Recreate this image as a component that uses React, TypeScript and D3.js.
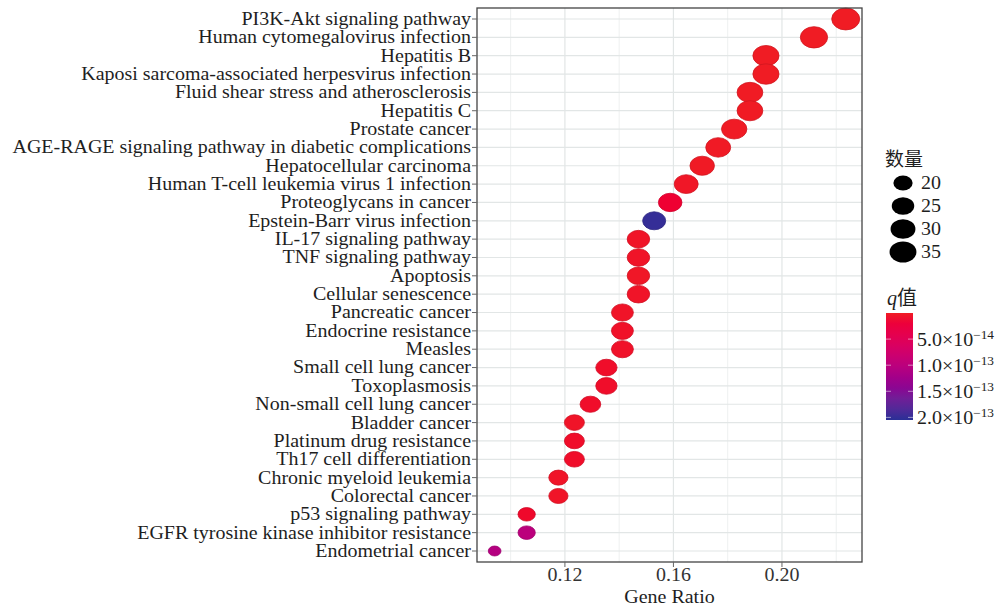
import React from "react";
import * as d3 from "d3";

// pathways, top to bottom
const pathways = [
  "PI3K-Akt signaling pathway",
  "Human cytomegalovirus infection",
  "Hepatitis B",
  "Kaposi sarcoma-associated herpesvirus infection",
  "Fluid shear stress and atherosclerosis",
  "Hepatitis C",
  "Prostate cancer",
  "AGE-RAGE signaling pathway in diabetic complications",
  "Hepatocellular carcinoma",
  "Human T-cell leukemia virus 1 infection",
  "Proteoglycans in cancer",
  "Epstein-Barr virus infection",
  "IL-17 signaling pathway",
  "TNF signaling pathway",
  "Apoptosis",
  "Cellular senescence",
  "Pancreatic cancer",
  "Endocrine resistance",
  "Measles",
  "Small cell lung cancer",
  "Toxoplasmosis",
  "Non-small cell lung cancer",
  "Bladder cancer",
  "Platinum drug resistance",
  "Th17 cell differentiation",
  "Chronic myeloid leukemia",
  "Colorectal cancer",
  "p53 signaling pathway",
  "EGFR tyrosine kinase inhibitor resistance",
  "Endometrial cancer",
];

const geneRatio = [
  0.2235, 0.2118, 0.1941, 0.1941, 0.1882, 0.1882, 0.1824, 0.1765, 0.1706, 0.1647,
  0.1588, 0.1529, 0.1471, 0.1471, 0.1471, 0.1471, 0.1412, 0.1412, 0.1412, 0.1353,
  0.1353, 0.1294, 0.1235, 0.1235, 0.1235, 0.1176, 0.1176, 0.1059, 0.1059, 0.0941,
];

const counts = [
  38, 36, 33, 33, 32, 32, 31, 30, 29, 28,
  27, 26, 25, 25, 25, 25, 24, 24, 24, 23,
  23, 22, 21, 21, 21, 20, 20, 18, 18, 16,
];

const qValues = [
  1e-16, 1e-16, 2e-16, 2e-16, 3e-16, 3e-16, 5e-16, 8e-16, 1e-15, 2e-15,
  1.2e-14, 2.0e-13, 3e-15, 3e-15, 2e-15, 3e-15, 3e-15, 4e-15, 4e-15, 5e-15,
  5e-15, 5e-15, 3e-15, 5e-15, 5e-15, 3e-15, 3e-15, 6e-15, 1.0e-13, 1.06e-13,
];

const xTicks = [0.12, 0.16, 0.2];
const xMinor = [0.1, 0.14, 0.18, 0.22];
const sizeBreaks = [20, 25, 30, 35];
const qBreaks = [5e-14, 1e-13, 1.5e-13, 2e-13];
const qLabels = [
  ["5.0", "\u221214"],
  ["1.0", "\u221213"],
  ["1.5", "\u221213"],
  ["2.0", "\u221213"],
];

const W = 1001;
const H = 608;
const panel = { left: 477, right: 862, top: 8, bottom: 562 };
const font = "'Liberation Serif', 'Times New Roman', 'Noto Sans CJK SC', serif";
const LOW = "#f01c24";
const HIGH = "#2a2f96";
const STRETCH = 1.11; // the original text is a little wider than Liberation Serif

// text drawn at (x, y) with a slight horizontal stretch
const T = ({ x, y, anchor = "start", size = 18, dy = "0", fill = "#1e1e1e", children }: any) => (
  <text
    transform={`translate(${x},${y}) scale(${STRETCH},1)`}
    textAnchor={anchor}
    fontSize={size}
    dy={dy}
    fill={fill}
  >
    {children}
  </text>
);

export default function App() {
  const x = d3
    .scaleLinear()
    .domain([0.0876, 0.2295])
    .range([panel.left, panel.right]);

  const y = d3.scalePoint<string>().domain(pathways).range([19, 551]);

  // ggplot-like area size scale: width grows with sqrt of rescaled count
  const cMin = d3.min(counts) as number;
  const cMax = d3.max(counts) as number;
  const unit = d3.scaleLinear().domain([cMin, cMax]).range([0, 1]).clamp(true);
  const widthScale = d3.scaleLinear().domain([0, 1]).range([12.7, 28]);
  const dotW = (c: number) => widthScale(Math.sqrt(unit(c)));
  const aspect = 1.28;

  const qDomain = [0, 2.05e-13];
  const color = d3
    .scaleLinear<string>()
    .domain(qDomain)
    .range([LOW, HIGH])
    .interpolate(d3.interpolateHcl);

  const bar = { x: 886, y0: 313, y1: 420, w: 27 };
  const qY = d3.scaleLinear().domain(qDomain).range([bar.y0, bar.y1]);

  const sizeLegendY = [183, 206, 229, 252];

  return (
    <svg
      width={W}
      height={H}
      style={{ position: "absolute", left: 0, top: 0, background: "#fff" }}
      fontFamily={font}
    >
      <defs>
        <linearGradient id="qgrad" x1="0" y1="0" x2="0" y2="1">
          {d3.range(0, 1.0001, 0.1).map((t) => (
            <stop key={t} offset={t} stopColor={color(qDomain[0] + t * (qDomain[1] - qDomain[0]))} />
          ))}
        </linearGradient>
      </defs>

      {/* grid */}
      {xMinor.map((v) => (
        <line key={"mn" + v} x1={x(v)} x2={x(v)} y1={panel.top} y2={panel.bottom} stroke="#eef0f0" strokeWidth={1} />
      ))}
      {xTicks.map((v) => (
        <line key={"mj" + v} x1={x(v)} x2={x(v)} y1={panel.top} y2={panel.bottom} stroke="#e2e6e6" strokeWidth={1.2} />
      ))}
      {pathways.map((p) => (
        <line key={"gy" + p} x1={panel.left} x2={panel.right} y1={y(p)} y2={y(p)} stroke="#e2e6e6" strokeWidth={1.2} />
      ))}

      {/* dots */}
      {pathways.map((p, i) => {
        const w = dotW(counts[i]);
        const fill = color(qValues[i]);
        return (
          <ellipse
            key={"d" + p}
            cx={x(geneRatio[i])}
            cy={y(p)}
            rx={w / 2}
            ry={w / 2 / aspect}
            fill={fill}
            stroke={d3.color(fill)!.darker(0.4).toString()}
            strokeWidth={0.8}
          />
        );
      })}

      {/* panel border */}
      <rect
        x={panel.left}
        y={panel.top}
        width={panel.right - panel.left}
        height={panel.bottom - panel.top}
        fill="none"
        stroke="#444"
        strokeWidth={1.3}
      />

      {/* y axis */}
      {pathways.map((p) => (
        <g key={"yt" + p}>
          <line x1={panel.left - 5} x2={panel.left} y1={y(p)} y2={y(p)} stroke="#666" strokeWidth={1} />
          <T x={panel.left - 6} y={y(p)} dy="0.33em" anchor="end">
            {p}
          </T>
        </g>
      ))}

      {/* x axis */}
      {xTicks.map((v) => (
        <g key={"xt" + v}>
          <line x1={x(v)} x2={x(v)} y1={panel.bottom} y2={panel.bottom + 5} stroke="#666" strokeWidth={1} />
          <T x={x(v)} y={581} anchor="middle" fill="#333">
            {d3.format(".2f")(v)}
          </T>
        </g>
      ))}
      <T x={(panel.left + panel.right) / 2} y={603} anchor="middle">
        Gene Ratio
      </T>

      {/* size legend */}
      <text x={885} y={166} fontSize={19} fill="#1e1e1e">数量</text>
      {sizeBreaks.map((s, i) => {
        const w = dotW(s);
        return (
          <g key={"sl" + s}>
            <ellipse cx={903} cy={sizeLegendY[i]} rx={w / 2} ry={w / 2 / aspect} fill="#000" />
            <T x={921} y={sizeLegendY[i]} dy="0.35em">
              {s}
            </T>
          </g>
        );
      })}

      {/* q legend */}
      <text x={887} y={305} fontSize={20} fill="#1e1e1e">
        <tspan fontStyle="italic">q</tspan>值
      </text>
      <rect x={bar.x} y={bar.y0} width={bar.w} height={bar.y1 - bar.y0} fill="url(#qgrad)" />
      {qBreaks.map((q, i) => (
        <g key={"ql" + q}>
          <line x1={bar.x} x2={bar.x + 5} y1={qY(q)} y2={qY(q)} stroke="#fff" strokeOpacity={0.5} />
          <line x1={bar.x + bar.w - 5} x2={bar.x + bar.w} y1={qY(q)} y2={qY(q)} stroke="#fff" strokeOpacity={0.5} />
          <T x={917} y={qY(q)} dy="0.38em">
            {qLabels[i][0]}×10
            <tspan dy="-0.6em" fontSize={12}>{qLabels[i][1]}</tspan>
          </T>
        </g>
      ))}
    </svg>
  );
}
